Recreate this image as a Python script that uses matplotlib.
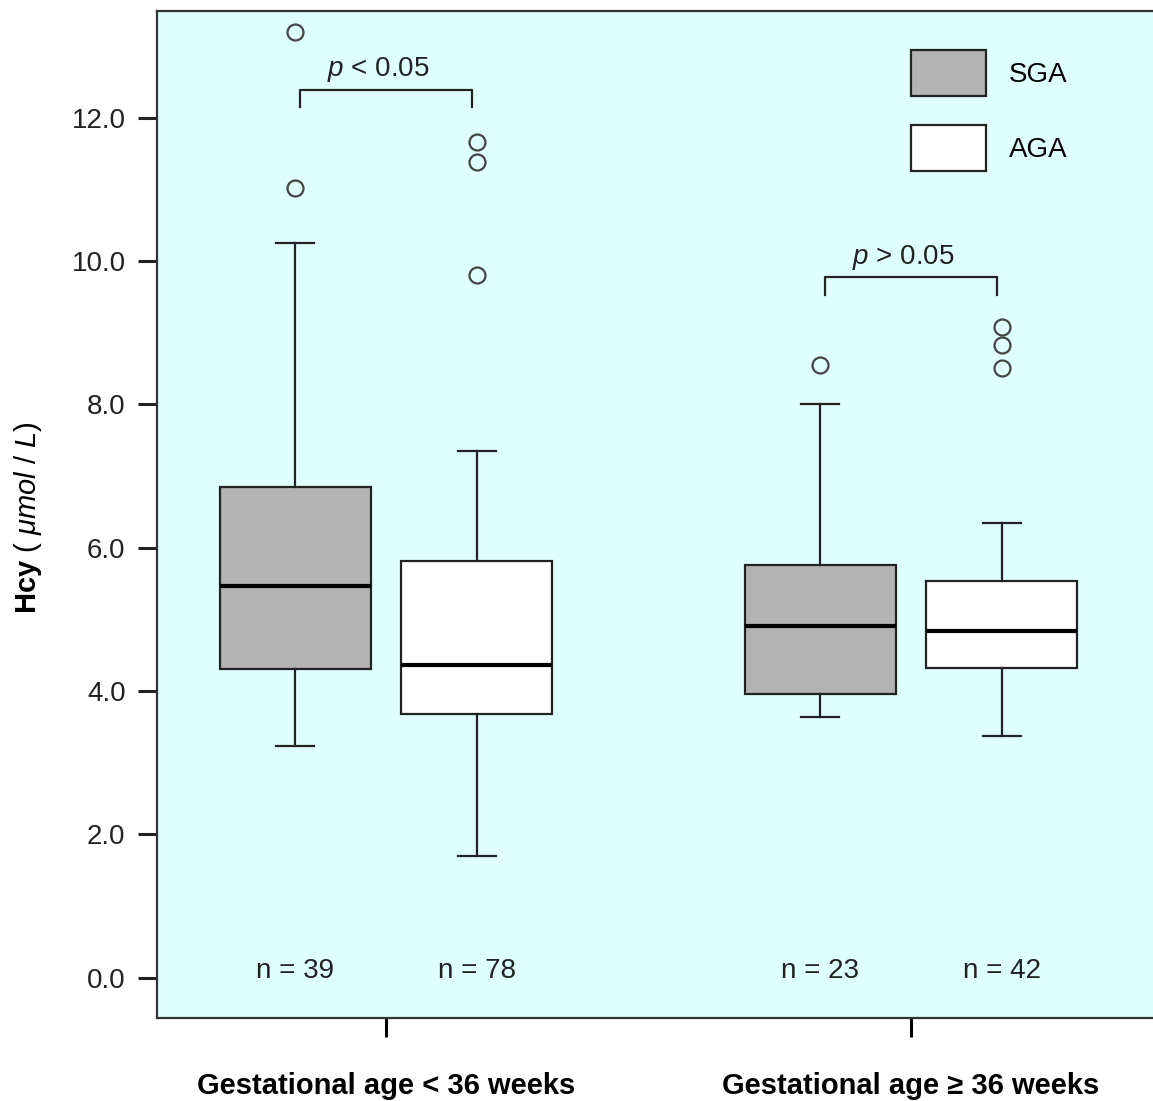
import matplotlib
matplotlib.use("Agg")
import matplotlib.pyplot as plt
from matplotlib.ticker import FormatStrFormatter

plt.rcParams['font.family'] = ['Liberation Sans', 'DejaVu Sans']
plt.rcParams['mathtext.fontset'] = 'custom'
plt.rcParams['mathtext.rm'] = 'Liberation Sans'
plt.rcParams['mathtext.it'] = 'Liberation Sans:italic'
plt.rcParams['mathtext.bf'] = 'Liberation Sans:bold'

# data
groups = ['Gestational age < 36 weeks', 'Gestational age \u2265 36 weeks']
series = ['SGA', 'AGA']
# whislo, q1, median, q3, whishi
sga_stats = [[3.23, 4.31, 5.47, 6.84, 10.25], [3.64, 3.96, 4.91, 5.76, 8.01]]
aga_stats = [[1.70, 3.68, 4.36, 5.82, 7.35], [3.37, 4.32, 4.84, 5.54, 6.35]]
sga_outliers = [[13.20, 11.02], [8.55]]
aga_outliers = [[11.66, 11.38, 9.80], [9.08, 8.83, 8.50]]
sga_n = [39, 23]
aga_n = [78, 42]
p_labels = ['< 0.05', '> 0.05']
bracket_y = [12.39, 9.77]
yticks = [0, 2, 4, 6, 8, 10, 12]

edge = '#222222'
sga_color = '#B3B3B3'
aga_color = 'white'
bg = '#DFFFFF'

fig = plt.figure(figsize=(11.53, 11.01), dpi=100)
ax = fig.add_axes([0.1362, 0.0754, 0.8638, 0.9142])
ax.set_facecolor(bg)

offset = 0.173
width = 0.288
group_pos = [1, 2]


def make_stats(vals, fl):
    lo, q1, med, q3, hi = vals
    return dict(whislo=lo, q1=q1, med=med, q3=q3, whishi=hi, fliers=fl)


common = dict(widths=width, capwidths=0.072, patch_artist=True, manage_ticks=False,
              medianprops=dict(color='black', linewidth=3),
              whiskerprops=dict(color=edge, linewidth=1.6),
              capprops=dict(color=edge, linewidth=1.6),
              flierprops=dict(marker='o', markerfacecolor='none', markeredgecolor='#444444',
                              markersize=11.5, markeredgewidth=1.6))

sga_pos = [g - offset for g in group_pos]
aga_pos = [g + offset for g in group_pos]

b1 = ax.bxp([make_stats(s, f) for s, f in zip(sga_stats, sga_outliers)], positions=sga_pos,
            boxprops=dict(facecolor=sga_color, edgecolor=edge, linewidth=1.6), **common)
b2 = ax.bxp([make_stats(s, f) for s, f in zip(aga_stats, aga_outliers)], positions=aga_pos,
            boxprops=dict(facecolor=aga_color, edgecolor=edge, linewidth=1.6), **common)

# n labels
for xs, ns in [(sga_pos, sga_n), (aga_pos, aga_n)]:
    for x, n in zip(xs, ns):
        ax.text(x, 0, 'n = %d' % n, ha='center', va='baseline', fontsize=20, color='#222222')

# significance brackets
for i in range(2):
    x0 = sga_pos[i] + 0.01
    x1 = aga_pos[i] - 0.01
    y = bracket_y[i]
    ax.plot([x0, x0, x1, x1], [y - 0.24, y, y, y - 0.24], color=edge, linewidth=1.6)
    ax.text((x0 + x1) / 2 - 0.015, y + 0.19, r'$\it{p}$ ' + p_labels[i], ha='center',
            va='baseline', fontsize=20, color='#222222')

ax.set_xlim(0.564, 2.461)
ax.set_ylim(-0.56, 13.48)
ax.set_yticks(yticks)
ax.yaxis.set_major_formatter(FormatStrFormatter('%.1f'))
ax.set_xticks(group_pos)
ax.set_xticklabels(groups, fontweight='bold')
ax.tick_params(axis='y', direction='out', length=13.7, width=2.2, pad=9, labelsize=20,
               colors='#222222')
ax.tick_params(axis='x', direction='out', length=14, width=2.2, pad=25, labelsize=21,
               colors='black')

for s in ['left', 'top', 'bottom']:
    ax.spines[s].set_color('#333333')
    ax.spines[s].set_linewidth(1.6)
ax.spines['right'].set_visible(False)

fig.text(28 / 1153, 1 - 518 / 1101, r'$\bf{Hcy}$ ( $\it{\mu mol\ /\ L}$)', rotation=90,
         ha='center', va='center', fontsize=21, color='black')

ax.legend([b1['boxes'][0], b2['boxes'][0]], series, loc='upper left',
          bbox_to_anchor=(911 / 1153, 1 - 50 / 1101), bbox_transform=fig.transFigure,
          frameon=False, fontsize=20, handlelength=2.7, handleheight=2.15,
          labelspacing=1.07, handletextpad=0.83, borderpad=0, borderaxespad=0)

plt.savefig('out.png', dpi=100)
